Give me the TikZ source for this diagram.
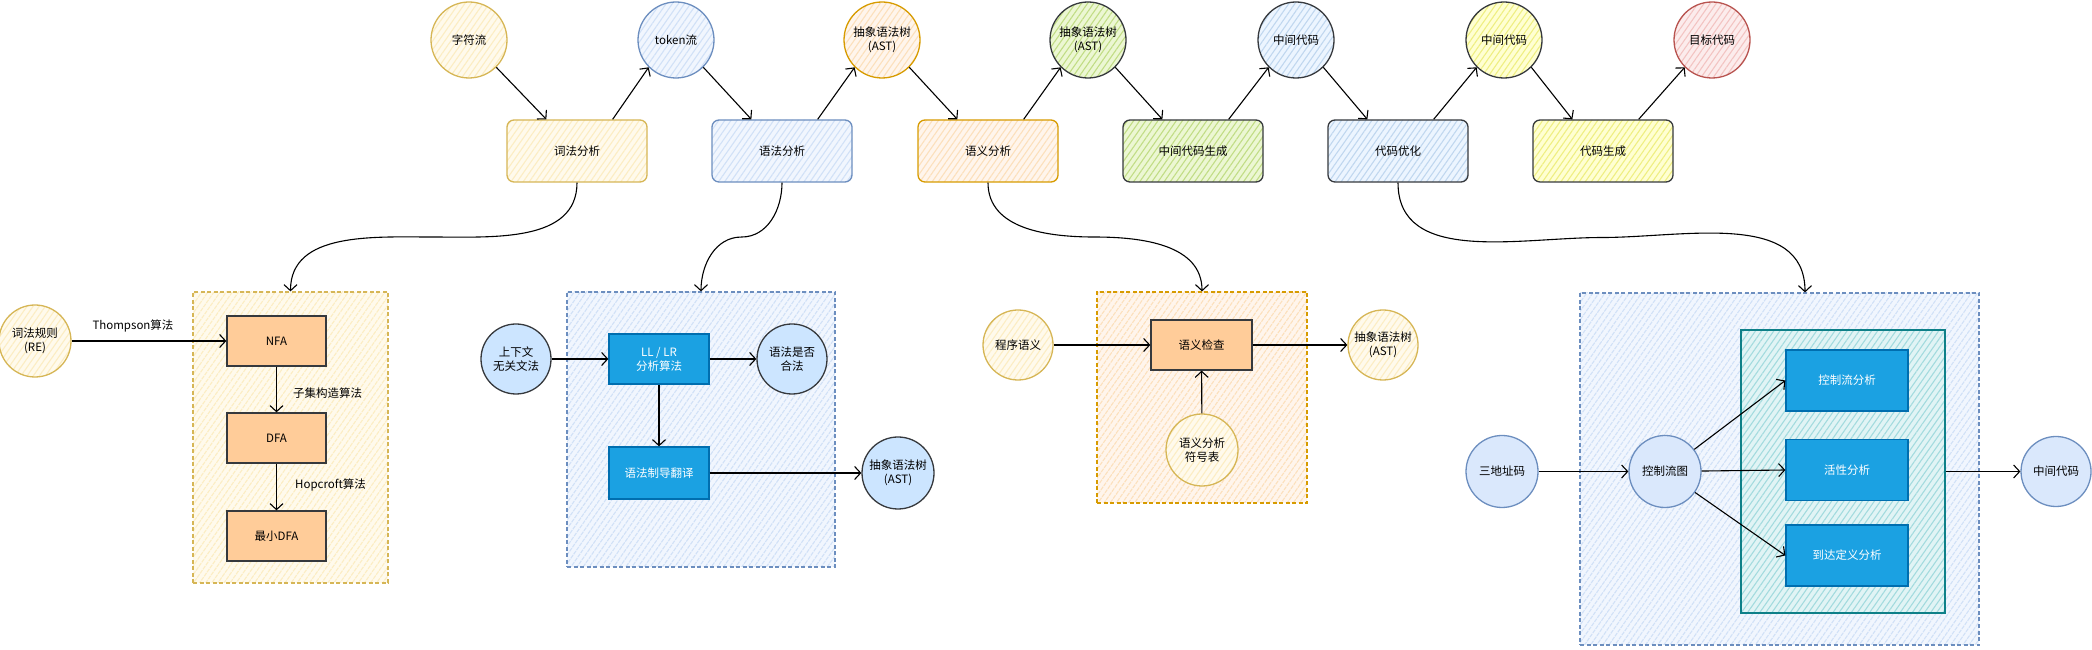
\documentclass[tikz,border=0pt]{standalone}
\usepackage{fontspec}
\setmainfont{Noto Sans CJK SC}
\usetikzlibrary{arrows.meta,patterns.meta,calc}
\definecolor{yF}{HTML}{FFF2CC}\definecolor{yS}{HTML}{D6B656}
\definecolor{bF}{HTML}{DAE8FC}\definecolor{bS}{HTML}{6C8EBF}
\definecolor{oF}{HTML}{FFE6CC}\definecolor{oS}{HTML}{D79B00}
\definecolor{gF}{HTML}{CDEB8B}\definecolor{dS}{HTML}{36393D}
\definecolor{cF}{HTML}{CCE5FF}\definecolor{lF}{HTML}{FFFF88}
\definecolor{rF}{HTML}{F8CECC}\definecolor{rS}{HTML}{B85450}
\definecolor{sF}{HTML}{FFCC99}
\definecolor{BF}{HTML}{1BA1E2}\definecolor{BS}{HTML}{006EAF}
\definecolor{tF}{HTML}{B0E3E6}\definecolor{tS}{HTML}{0E8088}
\tikzset{
  hatch/.style 2 args={preaction={fill=#1!38}, pattern={Lines[angle=55,distance=5pt,line width=1.1pt]}, pattern color=#1!92!#2, draw=#2},
  txt/.style={font=\fontsize{11.5}{14}\selectfont, align=center},
  circ/.style={circle, minimum size=#1, inner sep=0pt, line width=1.3pt, txt},
  circ/.default=76pt,
  tbox/.style={rectangle, rounded corners=7pt, minimum width=140pt, minimum height=62pt, line width=1.3pt, txt},
  sbox/.style={rectangle, minimum width=#1, minimum height=50pt, line width=1.3pt, txt},
  sbox/.default=100pt,
  bluebox/.style={sbox=#1, fill=BF, draw=BS, text=white},
  bluebox/.default=100pt,
  orbox/.style={sbox=#1, fill=sF, draw=dS},
  orbox/.default=100pt,
  gbox/.style={rectangle, line width=1.2pt, dash pattern=on 4pt off 2.5pt, inner sep=0pt},
  arr/.style={draw=black, line width=1.1pt, -{Straight Barb[length=6pt,width=13pt,line width=1.1pt]}},
  lbl/.style={txt, inner sep=1pt}
}
\begin{document}
\begin{tikzpicture}[x=1pt,y=1pt]
\useasboundingbox (0,0) rectangle (2092,650);
% ---------- top row ----------
\node[circ, hatch={yF}{yS}] (c1) at (469,610) {字符流};
\node[tbox, hatch={yF}{yS}] (b1) at (577,499) {词法分析};
\node[circ, hatch={bF}{bS}] (c2) at (676,610) {token流};
\node[tbox, hatch={bF}{bS}] (b2) at (782,499) {语法分析};
\node[circ, hatch={oF}{oS}] (c3) at (882,610) {抽象语法树\\(AST)};
\node[tbox, hatch={oF}{oS}] (b3) at (988,499) {语义分析};
\node[circ, hatch={gF}{dS}] (c4) at (1088,610) {抽象语法树\\(AST)};
\node[tbox, hatch={gF}{dS}] (b4) at (1193,499) {中间代码生成};
\node[circ, hatch={cF}{dS}] (c5) at (1296,610) {中间代码};
\node[tbox, hatch={cF}{dS}] (b5) at (1398,499) {代码优化};
\node[circ, hatch={lF}{dS}] (c6) at (1504,610) {中间代码};
\node[tbox, hatch={lF}{dS}] (b6) at (1603,499) {代码生成};
\node[circ, hatch={rF}{rS}] (c7) at (1712,610) {目标代码};
\foreach \i/\j in {1/2,2/3,3/4,4/5,5/6,6/7}{
  \draw[arr] (c\i.-45) -- ($(b\i.north west)+(40,0)$);
  \draw[arr] ($(b\i.north east)+(-35,0)$) -- (c\j.-135);
}
% ---------- group 1 ----------
\node[gbox, hatch={yF}{yS}, minimum width=195pt, minimum height=291pt] (g1) at (290.5,212.5) {};
\node[circ=72pt, hatch={yF}{yS}] (re) at (35,309) {词法规则\\(RE)};
\node[orbox=99pt] (nfa) at (276.5,309) {NFA};
\node[orbox=99pt] (dfa) at (276.5,212) {DFA};
\node[orbox=99pt] (mdfa) at (276.5,114) {最小DFA};
\draw[arr] (re) -- (nfa);
\draw[arr] (nfa) -- (dfa);
\draw[arr] (dfa) -- (mdfa);
\node[lbl] (l1) at (133,324) {Thompson算法};
\node[lbl, anchor=west] (l2) at (292,257) {子集构造算法};
\node[lbl, anchor=west] (l3) at (294,165) {Hopcroft算法};
% ---------- group 2 ----------
\node[gbox, hatch={bF}{bS}, minimum width=268pt, minimum height=275pt] (g2) at (701,220.5) {};
\node[circ=70pt, fill=cF, draw=dS] (cfg) at (516,291) {上下文\\无关文法};
\node[bluebox] (ll) at (659,291) {LL / LR\\分析算法};
\node[circ=70pt, fill=cF, draw=dS] (legal) at (792,291) {语法是否\\合法};
\node[bluebox, minimum height=52pt] (sdt) at (659,177) {语法制导翻译};
\node[circ=72pt, fill=cF, draw=dS] (ast2) at (898,177) {抽象语法树\\(AST)};
\draw[arr] (cfg) -- (ll);
\draw[arr] (ll) -- (legal);
\draw[arr] (ll) -- (sdt);
\draw[arr] (sdt) -- (ast2);
% ---------- group 3 ----------
\node[gbox, hatch={oF}{oS}, minimum width=210pt, minimum height=211pt] (g3) at (1202,252.5) {};
\node[circ=70pt, hatch={yF}{yS}] (prog) at (1018,305) {程序语义};
\node[orbox=101pt] (chk) at (1201.5,305) {语义检查};
\node[circ=72pt, hatch={yF}{yS}] (sym) at (1202,200) {语义分析\\符号表};
\node[circ=70pt, hatch={yF}{yS}] (ast3) at (1383,305) {抽象语法树\\(AST)};
\draw[arr] (prog) -- (chk);
\draw[arr] (sym) -- (chk);
\draw[arr] (chk) -- (ast3);
% ---------- group 4 ----------
\node[gbox, hatch={bF}{bS}, minimum width=399pt, minimum height=352pt] (g4) at (1779.5,181) {};
\node[rectangle, hatch={tF}{tS}, line width=1.5pt, minimum width=204pt, minimum height=283pt, inner sep=0pt] (teal) at (1843,178.5) {};
\node[bluebox=122pt, minimum height=61pt] (cf) at (1847,269.5) {控制流分析};
\node[bluebox=122pt, minimum height=61pt] (live) at (1847,180) {活性分析};
\node[bluebox=122pt, minimum height=61pt] (rd) at (1847,94.5) {到达定义分析};
\node[circ=72pt, fill=bF, draw=bS] (tac) at (1502,178.5) {三地址码};
\node[circ=72pt, fill=bF, draw=bS] (cfgn) at (1665,178.5) {控制流图};
\node[circ=70pt, fill=bF, draw=bS] (ir) at (2056,178.5) {中间代码};
\draw[arr] (tac) -- (cfgn);
\draw[arr] (cfgn) -- (cf.west);
\draw[arr] (cfgn) -- (live.west);
\draw[arr] (cfgn) -- (rd.west);
\draw[arr] (teal.east) -- (ir);
\coordinate (g4in) at ($(g4.north)+(25.5,0)$);
% ---------- curved connectors ----------
\draw[arr] (b1.south) to[out=-90,in=0] ($(b1.south)!0.5!(g1.north)$) to[out=180,in=90] (g1.north);
\draw[arr] (b2.south) to[out=-90,in=0] ($(b2.south)!0.5!(g2.north)$) to[out=180,in=90] (g2.north);
\draw[arr] (b3.south) to[out=-90,in=180] ($(b3.south)!0.5!(g3.north)$) to[out=0,in=90] (g3.north);
\draw[arr] (b5.south) to[out=-90,in=180] ($(b5.south)!0.5!(g4in)$) to[out=0,in=90] (g4in);
\end{tikzpicture}
\end{document}
